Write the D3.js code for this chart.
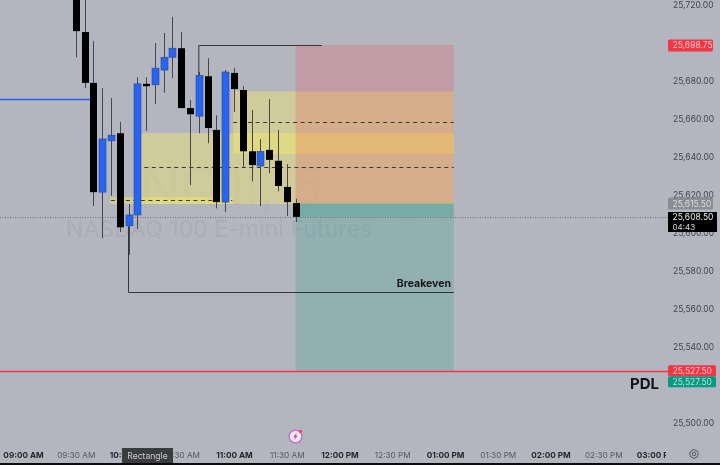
<!DOCTYPE html>
<html><head><meta charset="utf-8">
<script src="https://cdn.jsdelivr.net/npm/d3@7/dist/d3.min.js"></script>
<style>
html,body{margin:0;padding:0;background:#b4b6bf;overflow:hidden}
svg{display:block;filter:blur(.35px)}
text{font-family:Inter,"Open Sans",sans-serif}
</style></head><body>
<svg id="c" width="720" height="465"></svg>
<script>
// minutes after 09:00 for each 5-minute candle
const candleMinutes=[30,35,40,45,50,55,60,65,70,75,80,85,90,95,100,105,110,115,120,125,130,135,140,145,150,155];
const opens =[25729,25705.75,25679,25621.5,25648.5,25652.5,25603.75,25609.5,25678.5,25678,25685.75,25692.5,25697.25,25665.75,25661.5,25682.5,25654.25,25616.25,25684.25,25675.25,25643,25635.25,25643.75,25638,25624.25,25615.75];
const highs =[25730.5,25725.25,25701,25676.25,25671,25658.5,25615.25,25682,25682,25700,25705.25,25713.75,25705.75,25670,25684.75,25692,25662,25685.75,25686.75,25677.25,25664.75,25649.5,25670.5,25654.25,25636.25,25618];
const lows  =[25692.5,25676.25,25614.25,25597.25,25619.5,25600.5,25588.5,25602,25653.75,25668,25673.75,25681.5,25665.75,25625.25,25652.5,25647.25,25613,25611,25663.75,25634.75,25627.25,25614.25,25631.5,25622,25609,25605.75];
const closes=[25706.25,25679,25621.5,25649.5,25651.5,25603,25609.5,25678.5,25677.25,25686.75,25692.5,25697.25,25665.75,25662.5,25683,25655.25,25616.25,25684.75,25675.75,25643,25635.75,25643,25638.5,25624.75,25616.25,25608.5];
const upFlags=[0,0,0,1,1,0,1,1,0,1,1,1,0,0,1,0,0,1,0,0,0,1,0,0,0,0];

const priceTicks=[25720,25680,25660,25640,25620,25600,25580,25560,25540,25500];
const timeTicks=[0,30,60,90,120,150,180,210,240,270,300,330,360];
const timeLabels=["09:00 AM","09:30 AM","10:00 AM","10:30 AM","11:00 AM","11:30 AM","12:00 PM","12:30 PM","01:00 PM","01:30 PM","02:00 PM","02:30 PM","03:00 PM"];

const stopPrice=25698.75, entryPrice=25615.5, targetPrice=25527.5, lastPrice=25608.5, breakevenPrice=25569, pdlPrice=25527.5, bluePrice=25670.5;

const W=720,H=465;
const x=d3.scaleLinear().domain([0,360]).range([23,656]);
const y=d3.scaleLinear().domain([25720,25500]).range([5,423]);
const svg=d3.select("#c");
const fmt=d3.format(",.2f");
const snap=v=>Math.round(v)+.5;

svg.append("defs").append("clipPath").attr("id","tc").append("rect").attr("x",0).attr("y",440).attr("width",666).attr("height",25);
svg.append("defs").append("clipPath").attr("id","pane").append("rect").attr("x",0).attr("y",0).attr("width",668).attr("height",445);

svg.append("rect").attr("width",W).attr("height",H).attr("fill","#b4b6bf");

// watermark
svg.append("text").attr("x",66).attr("y",237).attr("font-size",23.1).attr("fill","#abadb6").text("NASDAQ 100 E-mini Futures");
svg.append("text").attr("x",140).attr("y",205).attr("font-size",54).attr("fill","#a9abb4").attr("fill-opacity",.4).text("NQ1!, 5");

const pane=svg.append("g").attr("clip-path","url(#pane)");

// yellow zones
const yel="rgba(255,240,91,.36)";
const zones=[{a:67,b:245,t:25652.6,u:25615.25},{a:119.5,b:245,t:25674.5,u:25641.6},{a:49.5,b:119,t:25618.9,u:25615.25}];
pane.selectAll("rect.z").data(zones).join("rect").attr("class","z")
 .attr("x",d=>x(d.a)).attr("width",d=>x(d.b)-x(d.a)).attr("y",d=>y(d.t)).attr("height",d=>y(d.u)-y(d.t)).attr("fill",yel);

// position box
const boxA=155, boxB=245;
pane.append("rect").attr("x",x(boxA)).attr("width",x(boxB)-x(boxA)).attr("y",y(stopPrice)-.6).attr("height",y(entryPrice)-y(stopPrice)+.6).attr("fill","rgba(242,54,69,.2)");
pane.append("rect").attr("x",x(boxA)).attr("width",x(boxB)-x(boxA)).attr("y",y(entryPrice)).attr("height",y(targetPrice)-y(entryPrice)).attr("fill","rgba(8,153,129,.2)");
pane.append("rect").attr("x",x(boxA)).attr("width",x(boxB)-x(boxA)).attr("y",y(entryPrice)).attr("height",y(lastPrice)-y(entryPrice)).attr("fill","rgba(8,153,129,.2)");

// horizontal reference lines
pane.append("line").attr("x1",0).attr("x2",x(40)).attr("y1",snap(y(bluePrice))).attr("y2",snap(y(bluePrice))).attr("stroke","#2f5cf0").attr("stroke-width",1.4);
pane.append("line").attr("x1",0).attr("x2",668).attr("y1",snap(y(pdlPrice))).attr("y2",snap(y(pdlPrice))).attr("stroke","#f23645").attr("stroke-width",1.5);
pane.append("line").attr("x1",0).attr("x2",668).attr("y1",snap(y(lastPrice))).attr("y2",snap(y(lastPrice))).attr("stroke","#6e7078").attr("stroke-dasharray","1 1.5");

// dashed levels
const dashed=[{a:119.5,b:245,p:25658.4},{a:69,b:245,p:25634.75},{a:50,b:119,p:25617.4}];
pane.selectAll("line.d").data(dashed).join("line").attr("class","d")
 .attr("x1",d=>x(d.a)).attr("x2",d=>x(d.b)).attr("y1",d=>snap(y(d.p))).attr("y2",d=>snap(y(d.p)))
 .attr("stroke","#3f392d").attr("stroke-width",1).attr("stroke-dasharray","4 3.5");

// candles
const cand=d3.range(candleMinutes.length);
pane.selectAll("line.w").data(cand).join("line").attr("class","w")
 .attr("x1",i=>Math.round(x(candleMinutes[i]))+.5).attr("x2",i=>Math.round(x(candleMinutes[i]))+.5)
 .attr("y1",i=>y(highs[i])).attr("y2",i=>y(lows[i])).attr("stroke","#45464c").attr("stroke-width",1);
pane.selectAll("rect.b").data(cand).join("rect").attr("class","b")
 .attr("x",i=>Math.round(x(candleMinutes[i]))-3).attr("width",7)
 .attr("y",i=>y(Math.max(opens[i],closes[i])))
 .attr("height",i=>Math.max(2,Math.abs(y(opens[i])-y(closes[i]))))
 .attr("fill",i=>upFlags[i]?"#2a63f0":"#000")
 .attr("stroke",i=>upFlags[i]?"#274a9a":"none").attr("stroke-width",.6);

// drawn path lines
const ln=d3.line().x(d=>x(d[0])).y(d=>snap(y(d[1])));
pane.append("path").attr("d",ln([[100,25683],[100,stopPrice],[170,stopPrice]])).attr("fill","none").attr("stroke","#34353a");
pane.append("path").attr("d",ln([[60,25603.75],[60,breakevenPrice],[245,breakevenPrice]])).attr("fill","none").attr("stroke","#34353a");
pane.append("text").attr("x",451).attr("y",y(breakevenPrice)-5).attr("text-anchor","end").attr("font-size",10.5).attr("font-weight",700).attr("fill","#15161a").text("Breakeven");

// price axis
const pa=svg.append("g").attr("transform","translate(673,0)").call(d3.axisRight(y).tickValues(priceTicks).tickSize(0).tickPadding(0).tickFormat(fmt));
pa.select(".domain").remove();
pa.selectAll("text").attr("font-size",8.5).attr("fill","#41434b").style("font-family","Inter,sans-serif");

// price labels
const tags=[
 {p:stopPrice,c:"#f23645",t:"#f6c9cd",w:45,h:12,dy:0},
 {p:entryPrice,c:"#8b8d95",t:"#dcdde2",w:45,h:12,dy:0},
 {p:targetPrice,c:"#f23645",t:"#f9ccd0",w:48,h:11,dy:0},
 {p:targetPrice,c:"#089981",t:"#b5e4da",w:48,h:11,dy:11}
];
tags.forEach(o=>{
 const cy=y(o.p)+o.dy;
 svg.append("rect").attr("x",668).attr("y",cy-o.h/2).attr("width",o.w).attr("height",o.h).attr("rx",1.5).attr("fill",o.c);
 svg.append("text").attr("x",672.5).attr("y",cy+3).attr("font-size",8.5).attr("fill",o.t).text(fmt(o.p));
});
svg.append("rect").attr("x",668).attr("y",212).attr("width",49).attr("height",20).attr("fill","#000");
svg.append("text").attr("x",672.5).attr("y",220).attr("font-size",8.5).attr("fill","#f0f0f0").text(fmt(lastPrice));
svg.append("text").attr("x",672.5).attr("y",229.5).attr("font-size",8).attr("fill","#d8d8d8").text("04:43");
svg.append("text").attr("x",630).attr("y",389).attr("font-size",15).attr("font-weight",700).attr("fill","#111216").text("PDL");

// time axis
const ta=svg.append("g").attr("clip-path","url(#tc)").append("g").attr("transform","translate(0,450)")
 .call(d3.axisBottom(x).tickValues(timeTicks).tickSize(0).tickPadding(0).tickFormat((d,i)=>timeLabels[i]));
ta.select(".domain").remove();
ta.selectAll("text").attr("dy",0).attr("y",7.5).attr("font-size",8.2)
 .style("font-family","Inter,sans-serif")
 .attr("font-weight",(d,i)=>i%2?400:700).attr("fill",(d,i)=>i%2?"#55575f":"#24252b");

// bottom strip, tooltip, icons
svg.append("rect").attr("x",0).attr("y",463).attr("width",W).attr("height",2).attr("fill","#0b0b0d");
svg.append("rect").attr("x",122).attr("y",448).attr("width",51).attr("height",15).attr("fill","#3b3c40");
svg.append("text").attr("x",147.5).attr("y",459).attr("text-anchor","middle").attr("font-size",8.6).attr("fill","#c9cace").text("Rectangle");

const g=svg.append("g").attr("transform","translate(694,454)");
g.append("path").attr("d",d3.line().curve(d3.curveLinearClosed)(d3.range(6).map(k=>[4.6*Math.cos(k*Math.PI/3+Math.PI/6),4.6*Math.sin(k*Math.PI/3+Math.PI/6)]))).attr("fill","none").attr("stroke","#55575f").attr("stroke-width",1);
g.append("circle").attr("r",1.8).attr("fill","none").attr("stroke","#55575f").attr("stroke-width",1);

const r=svg.append("g").attr("transform","translate(295.5,436.5)");
r.append("circle").attr("r",6.4).attr("fill","#eee9f1").attr("stroke","#bb6fc6").attr("stroke-width",1.4);
r.append("path").attr("d","M1.5,-4 L-2.4,0.8 L-0.2,0.8 L-1.4,4 L2.4,-1 L0.2,-1 Z").attr("fill","#c04fb8");
r.append("circle").attr("cx",5).attr("cy",-5).attr("r",1.7).attr("fill","#ef4a5a");
</script>
</body></html>
